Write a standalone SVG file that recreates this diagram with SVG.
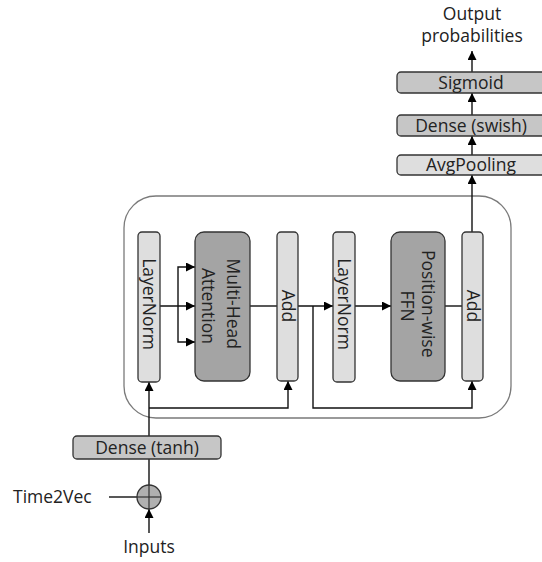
<svg xmlns="http://www.w3.org/2000/svg" width="542" height="562" viewBox="0 0 542 562">
  <style>
    text { font-family: "Open Sans", "Liberation Sans", sans-serif; font-size: 17.5px; fill: #222; }
    .lbl { text-anchor: middle; }
    .box { stroke: #333; stroke-width: 1.3; }
    .light { fill: #dedede; }
    .mid { fill: #c6c6c6; }
    .dark { fill: #a4a4a4; }
    .wire { fill: none; stroke: #111; stroke-width: 1.4; }
  </style>
  <defs>
    <marker id="arrow" viewBox="0 0 10 10" refX="10" refY="5" markerWidth="9" markerHeight="9" markerUnits="userSpaceOnUse" orient="auto">
      <path d="M0,0 L10,5 L0,10 z" fill="#000"/>
    </marker>
  </defs>

  <rect width="542" height="562" fill="#fff"/>

  <!-- encoder block frame -->
  <rect id="encoder" x="124" y="196" width="387" height="222" rx="32" ry="32" fill="none" stroke="#7a7a7a" stroke-width="1.3"/>

  <!-- connectors -->
  <g id="connectors">
    <!-- input into sum -->
    <line class="wire" x1="149" y1="533" x2="149" y2="509" marker-end="url(#arrow)"/>
    <!-- Time2Vec into sum -->
    <line class="wire" x1="109" y1="497" x2="137" y2="497"/>
    <!-- sum to Dense (tanh) -->
    <line class="wire" x1="149" y1="485" x2="149" y2="459"/>
    <!-- Dense (tanh) to LayerNorm -->
    <line class="wire" x1="149" y1="436" x2="149" y2="382" marker-end="url(#arrow)"/>
    <!-- first residual -->
    <polyline class="wire" points="149,408 288,408 288,381" marker-end="url(#arrow)"/>
    <!-- LayerNorm to attention: query, key, value -->
    <line class="wire" x1="160" y1="306" x2="195" y2="306" marker-end="url(#arrow)"/>
    <polyline class="wire" points="178,306 178,267 195,267" marker-end="url(#arrow)"/>
    <polyline class="wire" points="178,306 178,342 195,342" marker-end="url(#arrow)"/>
    <!-- attention to Add -->
    <line class="wire" x1="250" y1="306" x2="277" y2="306"/>
    <!-- Add to second LayerNorm -->
    <line class="wire" x1="298" y1="306" x2="333" y2="306" marker-end="url(#arrow)"/>
    <!-- second residual -->
    <polyline class="wire" points="313,306 313,408 472,408 472,381" marker-end="url(#arrow)"/>
    <!-- LayerNorm to FFN -->
    <line class="wire" x1="355" y1="306" x2="391" y2="306" marker-end="url(#arrow)"/>
    <!-- FFN to Add -->
    <line class="wire" x1="445" y1="306" x2="462" y2="306"/>
    <!-- Add up to pooling -->
    <line class="wire" x1="472" y1="232" x2="472" y2="175" marker-end="url(#arrow)"/>
    <!-- head -->
    <line class="wire" x1="472" y1="155" x2="472" y2="136" marker-end="url(#arrow)"/>
    <line class="wire" x1="472" y1="115" x2="472" y2="93" marker-end="url(#arrow)"/>
    <line class="wire" x1="472" y1="72" x2="472" y2="51" marker-end="url(#arrow)"/>
  </g>

  <!-- input side -->
  <g id="inputs">
    <text class="lbl" x="149" y="553">Inputs</text>
  </g>
  <g id="time2vec">
    <text x="13" y="503">Time2Vec</text>
  </g>
  <g id="sum">
    <circle cx="149" cy="497" r="12" fill="#b0b0b0" stroke="#333" stroke-width="1.3"/>
    <line x1="137" y1="497" x2="161" y2="497" stroke="#333" stroke-width="1.2"/>
    <line x1="149" y1="485" x2="149" y2="509" stroke="#333" stroke-width="1.2"/>
  </g>
  <g id="dense-tanh">
    <rect class="box mid" x="73" y="436" width="148" height="23" rx="4"/>
    <text class="lbl" x="147" y="453.5">Dense (tanh)</text>
  </g>

  <!-- encoder contents -->
  <g id="layernorm-1">
    <rect class="box light" x="138" y="232" width="22" height="150" rx="4"/>
    <text class="lbl" transform="translate(149,304) rotate(90)" y="6">LayerNorm</text>
  </g>
  <g id="multi-head-attention">
    <rect class="box dark" x="195" y="232" width="55" height="149" rx="9"/>
    <text class="lbl" transform="translate(222,306) rotate(90)">
      <tspan x="0" y="-5">Multi-Head</tspan>
      <tspan x="0" y="20">Attention</tspan>
    </text>
  </g>
  <g id="add-1">
    <rect class="box light" x="277" y="232" width="21" height="149" rx="4"/>
    <text class="lbl" transform="translate(287.5,306) rotate(90)" y="6">Add</text>
  </g>
  <g id="layernorm-2">
    <rect class="box light" x="333" y="232" width="22" height="150" rx="4"/>
    <text class="lbl" transform="translate(344,304) rotate(90)" y="6">LayerNorm</text>
  </g>
  <g id="position-wise-ffn">
    <rect class="box dark" x="391" y="232" width="54" height="149" rx="9"/>
    <text class="lbl" transform="translate(418,306) rotate(90)">
      <tspan x="0" y="-4">Position-wise</tspan>
      <tspan x="0" y="17">FFN</tspan>
    </text>
  </g>
  <g id="add-2">
    <rect class="box light" x="462" y="232" width="21" height="149" rx="4"/>
    <text class="lbl" transform="translate(472.5,306) rotate(90)" y="6">Add</text>
  </g>

  <!-- output head -->
  <g id="avgpooling">
    <rect class="box light" x="397" y="155" width="150" height="20" rx="4"/>
    <text class="lbl" x="471" y="171">AvgPooling</text>
  </g>
  <g id="dense-swish">
    <rect class="box mid" x="397" y="115" width="150" height="21" rx="4"/>
    <text class="lbl" x="471" y="131.5">Dense (swish)</text>
  </g>
  <g id="sigmoid">
    <rect class="box mid" x="397" y="72" width="150" height="21" rx="4"/>
    <text class="lbl" x="471" y="89">Sigmoid</text>
  </g>
  <g id="output">
    <text class="lbl" x="472" y="20">Output</text>
    <text class="lbl" x="472" y="42">probabilities</text>
  </g>
</svg>
